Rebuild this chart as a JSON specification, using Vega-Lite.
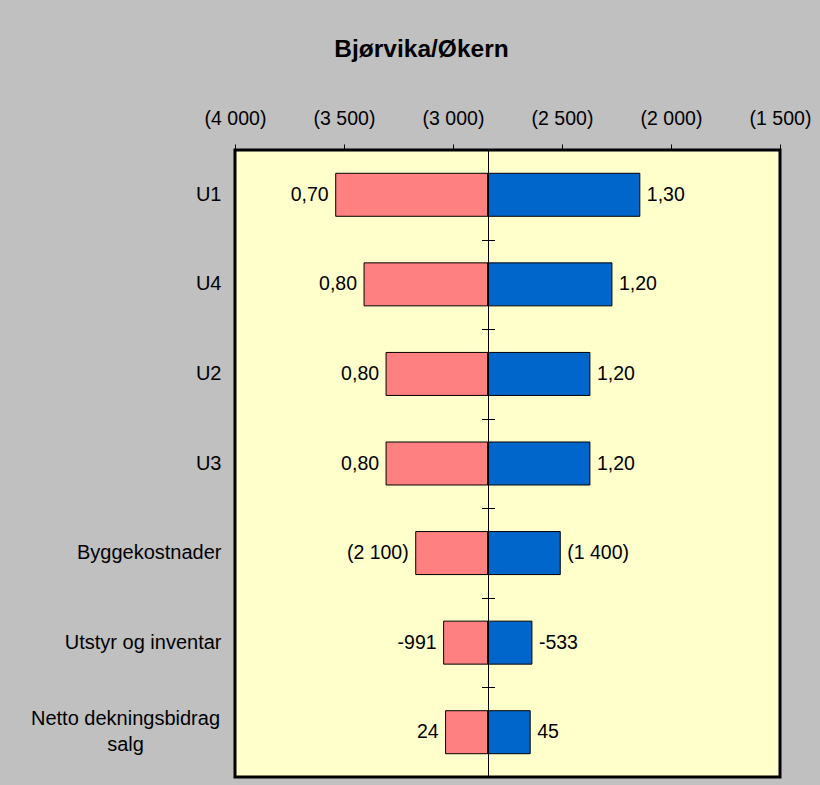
{
  "$schema": "https://vega.github.io/schema/vega-lite/v6.json",
  "width": 545,
  "height": 627,
  "autosize": {"type": "none"},
  "padding": {"left": 235, "top": 150, "right": 40, "bottom": 8},
  "background": "#c0c0c0",
  "title": {
    "text": "Bjørvika/Økern",
    "font": "Liberation Sans",
    "fontSize": 24.5,
    "fontWeight": "bold",
    "color": "black",
    "anchor": "middle",
    "frame": "group",
    "baseline": "alphabetic",
    "dx": -86,
    "offset": 27
  },
  "data": {
    "values": [
      {"cat": "U1", "low": -3538, "base": -2841, "high": -2143, "lowLabel": "0,70", "highLabel": "1,30"},
      {"cat": "U4", "low": -3408, "base": -2841, "high": -2271, "lowLabel": "0,80", "highLabel": "1,20"},
      {"cat": "U2", "low": -3307, "base": -2841, "high": -2372, "lowLabel": "0,80", "highLabel": "1,20"},
      {"cat": "U3", "low": -3307, "base": -2841, "high": -2372, "lowLabel": "0,80", "highLabel": "1,20"},
      {"cat": "Byggekostnader", "low": -3171, "base": -2841, "high": -2508, "lowLabel": "(2 100)", "highLabel": "(1 400)"},
      {"cat": "Utstyr og inventar", "low": -3043, "base": -2841, "high": -2638, "lowLabel": "-991", "highLabel": "-533"},
      {"cat": "Netto dekningsbidrag salg", "low": -3034, "base": -2841, "high": -2646, "lowLabel": "24", "highLabel": "45"}
    ]
  },
  "layer": [
    {
      "mark": {"type": "bar", "color": "#ff8080", "stroke": "black", "strokeWidth": 1},
      "encoding": {
        "y": {
          "field": "cat", "type": "nominal", "sort": null,
          "scale": {"paddingInner": 0.52, "paddingOuter": 0.26},
          "axis": {
            "orient": "left", "title": null, "domain": false, "ticks": false, "grid": false,
            "labelFont": "Liberation Sans", "labelFontSize": 20, "labelColor": "black",
            "labelAlign": {"condition": {"test": "datum.value == 'Netto dekningsbidrag salg'", "value": "center"}, "value": "right"},
            "labelPadding": {"condition": {"test": "datum.value == 'Netto dekningsbidrag salg'", "value": 110}, "value": 14},
            "labelOffset": {"condition": {"test": "datum.value == 'Netto dekningsbidrag salg'", "value": -13}, "value": 0},
            "labelLineHeight": 26, "labelLimit": 400,
            "labelExpr": "datum.value == 'Netto dekningsbidrag salg' ? ['Netto dekningsbidrag', 'salg'] : datum.value"
          }
        },
        "x": {
          "field": "low", "type": "quantitative",
          "scale": {"domain": [-4000, -1500], "nice": false, "zero": false},
          "axis": {
            "orient": "top", "title": null, "domain": false, "grid": false,
            "values": [-4000, -3500, -3000, -2500, -2000, -1500],
            "tickSize": 6, "tickColor": "black", "tickWidth": 1,
            "labelFont": "Liberation Sans", "labelFontSize": 19.5, "labelColor": "black",
            "labelPadding": 16, "labelFlush": false, "labelOverlap": false, "labelBound": false,
            "labelExpr": "'(' + replace(format(-datum.value, ','), ',', ' ') + ')'"
          }
        },
        "x2": {"field": "base"}
      }
    },
    {
      "mark": {"type": "bar", "color": "#0066cc", "stroke": "black", "strokeWidth": 1},
      "encoding": {
        "y": {
          "field": "cat", "type": "nominal", "sort": null,
          "axis": {
            "orient": "left", "offset": -253, "title": null, "labels": false, "grid": false,
            "domain": true, "domainColor": "black", "domainWidth": 1,
            "ticks": true, "tickOffset": 44.8, "tickSize": 6.5, "tickColor": "black", "tickWidth": 1,
            "zindex": 1
          }
        },
        "x": {"field": "base", "type": "quantitative"},
        "x2": {"field": "high"}
      }
    },
    {
      "mark": {"type": "text", "align": "right", "baseline": "middle", "dx": -7, "font": "Liberation Sans", "fontSize": 19.5, "color": "black"},
      "encoding": {
        "y": {
          "field": "cat", "type": "nominal", "sort": null,
          "axis": {
            "orient": "right", "offset": -292, "title": null, "labels": false, "grid": false,
            "domain": false,
            "ticks": true, "tickOffset": 44.8, "tickSize": 6.5, "tickColor": "black", "tickWidth": 1,
            "zindex": 1
          }
        },
        "x": {"field": "low", "type": "quantitative"},
        "text": {"field": "lowLabel"}
      }
    },
    {
      "mark": {"type": "text", "align": "left", "baseline": "middle", "dx": 7, "font": "Liberation Sans", "fontSize": 19.5, "color": "black"},
      "encoding": {
        "y": {"field": "cat", "type": "nominal", "sort": null, "axis": null},
        "x": {"field": "high", "type": "quantitative"},
        "text": {"field": "highLabel"}
      }
    }
  ],
  "resolve": {"axis": {"y": "independent"}},
  "config": {
    "view": {"fill": "#ffffcc", "stroke": "black", "strokeWidth": 3}
  }
}
